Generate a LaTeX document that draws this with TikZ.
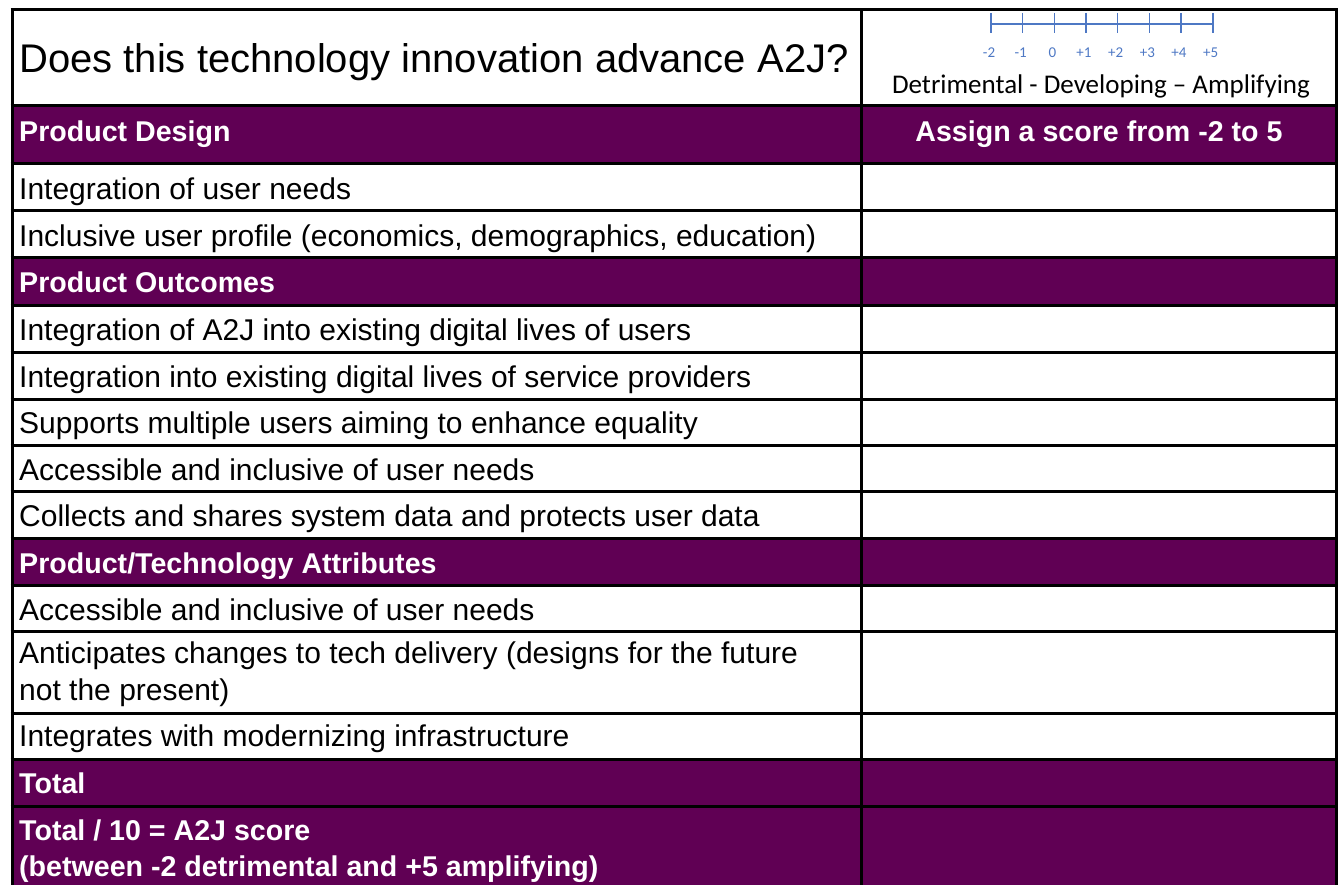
\documentclass[tikz,border=0pt]{standalone}
\usepackage{fontspec}
\usetikzlibrary{calc}
\setmainfont{Liberation Sans}
\newfontfamily\calib{Carlito}
\definecolor{plum}{RGB}{96,0,84}
\definecolor{scaleblue}{RGB}{78,120,196}
\tikzset{
  body/.style={anchor=base west, inner sep=0pt, font=\fontsize{30}{36.7}\selectfont, align=left},
  headtxt/.style={anchor=base west, inner sep=0pt, text=white, font=\fontsize{28.6}{36.7}\selectfont\bfseries, align=left},
  grid/.style={line width=3pt, black},
  band/.style={fill=plum, draw=none},
  tick/.style={draw=scaleblue, line width=1.6pt},
  ticklbl/.style={inner sep=0pt, text=scaleblue, font=\calib\fontsize{15}{17}\selectfont}
}
\begin{document}
\begin{tikzpicture}[x=1pt,y=-1pt]
\useasboundingbox (0,0) rectangle (1338,885);
% purple bands
\fill[band] (12,106) rectangle (1336,163.5);
\fill[band] (12,258) rectangle (1336,305);
\fill[band] (12,538) rectangle (1336,585);
\fill[band] (12,759) rectangle (1336,885);
% grid lines
\foreach \yy in {10,106,163.5,211,258,305,352,399,445,491.5,538,585,631,713,759,806}
  \draw[grid] (10.5,\yy) -- (1337.5,\yy);
\foreach \xx in {12,861,1336}
  \draw[grid] (\xx,8.5) -- (\xx,885);
% title
\node[anchor=base west, inner sep=0pt, font=\fontsize{40}{48}\selectfont] (title) at (19,73) {Does this technology innovation advance A2J?};
% number line
\coordinate (nlA) at (991,24);
\coordinate (nlB) at (1212.7,24);
\draw[tick] (nlA) -- (nlB);
\foreach \i/\lab [count=\k] in {0/-2,1/-1,2/0,3/+1,4/+2,5/+3,6/+4,7/+5}{
  \draw[tick] ($(nlA)+(\i*31.67,-11)$) -- ($(nlA)+(\i*31.67,9)$);
  \node[ticklbl] (lab\k) at ($(nlA)+(\i*31.67-2,29)$) {\lab};
}
\node[anchor=base, inner sep=0pt, font=\calib\fontsize{27}{32}\selectfont] (legend) at (1101,94) {Detrimental - Developing – Amplifying};
% headers
\node[headtxt] (pd) at (19,141.5) {Product Design};
\node[anchor=base, inner sep=0pt, text=white, font=\fontsize{28.6}{34}\selectfont\bfseries] (assign) at (1099,141.5) {Assign a score from -2 to 5};
\node[body] (r1) at (19,200) {Integration of user needs};
\node[body] (r2) at (19,247) {Inclusive user profile (economics, demographics, education)};
\node[headtxt] (po) at (19,293) {Product Outcomes};
\node[body] (r3) at (19,340) {Integration of A2J into existing digital lives of users};
\node[body] (r4) at (19,387) {Integration into existing digital lives of service providers};
\node[body] (r5) at (19,433.5) {Supports multiple users aiming to enhance equality};
\node[body] (r6) at (19,480) {Accessible and inclusive of user needs};
\node[body] (r7) at (19,526.5) {Collects and shares system data and protects user data};
\node[headtxt] (pt) at (19,573) {Product/Technology Attributes};
\node[body] (r8) at (19,620) {Accessible and inclusive of user needs};
\node[body] (r9) at (19,700) {Anticipates changes to tech delivery (designs for the future\\not the present)};
\node[body] (r10) at (19,746.7) {Integrates with modernizing infrastructure};
\node[headtxt] (tot) at (19,793.3) {Total};
\node[headtxt] (score) at (19,876.7) {Total / 10 = A2J score\\(between -2 detrimental and +5 amplifying)};
\end{tikzpicture}
\end{document}
